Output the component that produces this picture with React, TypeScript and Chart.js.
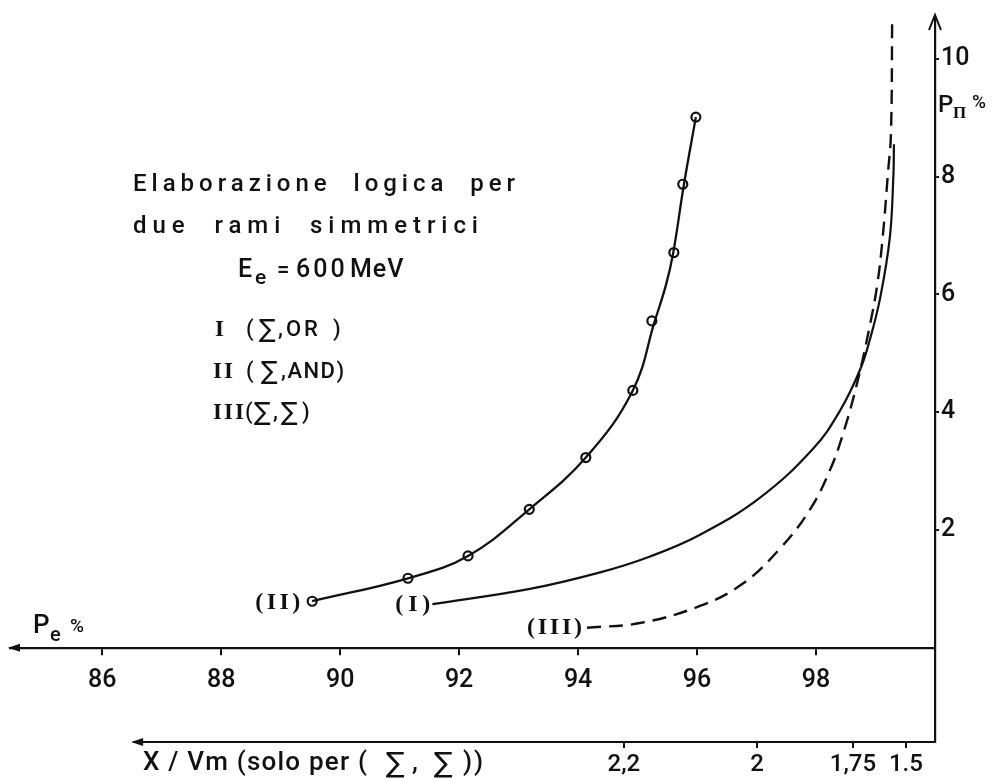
import React, { useEffect, useRef } from 'react';
import { Chart, registerables } from 'chart.js';

Chart.register(...registerables);

// Curve II (Σ, AND) – measured points (circles), Pe % vs PΠ %
const markIIx = [89.53, 91.14, 92.15, 93.18, 94.13, 94.92, 95.24, 95.61, 95.76, 95.98];
const markIIy = [0.79, 1.18, 1.56, 2.35, 3.23, 4.37, 5.55, 6.71, 7.87, 9.01];
// Curve II – drawn smooth line
const lineIIx = [89.53, 91.14, 92.15, 93.18, 94.13, 94.92, 95.29, 95.48, 95.6, 95.78, 95.98];
const lineIIy = [0.79, 1.18, 1.56, 2.35, 3.23, 4.37, 5.55, 6.17, 6.71, 7.87, 9.01];
// Curve I (Σ, OR) – solid line
const curveIx = [91.55, 93.19, 94.37, 95.21, 96.05, 97.06, 97.95, 98.4, 98.74, 98.91, 99.08, 99.24, 99.3, 99.31];
const curveIy = [0.74, 1.0, 1.28, 1.55, 1.92, 2.55, 3.38, 4.02, 4.72, 5.25, 5.95, 6.96, 8.0, 8.55];
// Curve III (Σ, Σ) – dashed line
const curveIIIx = [94.15, 95.04, 96.05, 96.77, 97.39, 97.9, 98.24, 98.45, 98.69, 98.91, 99.03, 99.12, 99.21, 99.26, 99.28];
const curveIIIy = [0.34, 0.42, 0.71, 1.09, 1.68, 2.35, 3.03, 3.62, 4.49, 5.5, 6.17, 6.96, 8.07, 8.74, 10.67];

const peTicks = [86, 88, 90, 92, 94, 96, 98];
const pPiTicks = [2, 4, 6, 8, 10];
// X/Vm secondary axis: tick positions expressed on the Pe scale, and their labels
const xvmTickPe = [94.77, 97.01, 98.62, 99.51];
const xvmLabels = ['2,2', '2', '1,75', '1.5'];
const xvmAxisFrom = 86.52;

const peMin = 84.45;
const peMax = 100;
const piMin = -1.6;
const piMax = 10.71;

const ink = '#111111';
const SIG = '∑';

const toPts = (xs: number[], ys: number[]) => xs.map((x, i) => ({ x, y: ys[i] }));

function fitText(ctx: CanvasRenderingContext2D, text: string, x: number, y: number, width: number, font: string) {
  ctx.save();
  ctx.font = font;
  (ctx as any).letterSpacing = '0px';
  const w = ctx.measureText(text).width;
  const n = Array.from(text).length;
  const sp = n > 1 ? (width - w) / (n - 1) : 0;
  (ctx as any).letterSpacing = sp.toFixed(2) + 'px';
  ctx.fillText(text, x, y);
  ctx.restore();
}

function put(ctx: CanvasRenderingContext2D, text: string, x: number, y: number, font: string, spacing = 0) {
  ctx.save();
  ctx.font = font;
  (ctx as any).letterSpacing = spacing + 'px';
  ctx.fillText(text, x, y);
  ctx.restore();
}

const decor = {
  id: 'decor',
  afterDraw(chart: any) {
    const ctx: CanvasRenderingContext2D = chart.ctx;
    const xs = chart.scales.x;
    const ys = chart.scales.y;
    const area = chart.chartArea;
    ctx.save();
    ctx.fillStyle = ink;
    ctx.strokeStyle = ink;
    ctx.textBaseline = 'alphabetic';
    ctx.textAlign = 'left';

    // lower X/Vm axis line
    const y0 = ys.getPixelForValue(0);
    const xStart = xs.getPixelForValue(xvmAxisFrom);
    ctx.lineWidth = 2.2;
    ctx.beginPath();
    ctx.moveTo(xStart, area.bottom);
    ctx.lineTo(area.right, area.bottom);
    ctx.stroke();

    // arrow heads
    const leftArrow = (px: number, py: number) => {
      ctx.beginPath();
      ctx.moveTo(px - 2, py);
      ctx.lineTo(px + 10, py - 4);
      ctx.lineTo(px + 10, py + 4);
      ctx.closePath();
      ctx.fill();
    };
    leftArrow(area.left, y0);
    leftArrow(xStart, area.bottom);
    ctx.lineWidth = 2;
    ctx.beginPath();
    ctx.moveTo(area.right - 6, area.top + 13);
    ctx.lineTo(area.right, area.top - 2);
    ctx.lineTo(area.right + 6, area.top + 13);
    ctx.stroke();

    // title block
    const f = '500 24px Roboto';
    fitText(ctx, 'Elaborazione  logica  per', 133, 191, 382, f);
    fitText(ctx, 'due  rami  simmetrici', 133, 233, 345, f);
    put(ctx, 'E', 238, 277, '500 25px Roboto');
    put(ctx, 'e', 255, 284, '500 21px Roboto');
    put(ctx, '=', 277, 277, '500 22px Roboto');
    put(ctx, '600', 296, 277, '500 25px Roboto', 3);
    put(ctx, 'MeV', 350, 277, '500 25px Roboto', 1);

    // legend lines
    const rf = 'bold 23px "Liberation Serif"';
    const lf = '500 22px Roboto';
    const sf = '25px "DejaVu Sans"';
    put(ctx, 'I', 215, 336, rf);
    put(ctx, '(', 246, 336, lf);
    put(ctx, SIG, 259, 337, sf);
    put(ctx, ',OR', 278, 336, lf, 3);
    put(ctx, ')', 333, 336, lf);

    put(ctx, 'II', 213, 378, rf, 2);
    put(ctx, '(', 246, 378, lf);
    put(ctx, SIG, 261, 379, sf);
    put(ctx, ',AND)', 281, 378, lf, 1.5);

    put(ctx, 'III', 213, 419, rf, 2);
    put(ctx, '(', 245, 419, lf);
    put(ctx, SIG, 254, 420, sf);
    put(ctx, ',', 273, 419, lf);
    put(ctx, SIG, 281, 420, sf);
    put(ctx, ')', 302, 419, lf);

    // curve labels, placed left of each curve start
    const cf = 'bold 24px "Liberation Serif"';
    ctx.textBaseline = 'middle';
    const lab = (text: string, px: number, py: number, w: number) => fitText(ctx, text, px - w, py, w, cf);
    lab('(II)', xs.getPixelForValue(markIIx[0]) - 12, ys.getPixelForValue(markIIy[0]) + 2, 45);
    lab('(I)', xs.getPixelForValue(curveIx[0]) - 2, ys.getPixelForValue(curveIy[0]) + 1, 35);
    lab('(III)', xs.getPixelForValue(curveIIIx[0]) - 5, ys.getPixelForValue(curveIIIy[0]), 55);
    ctx.textBaseline = 'alphabetic';

    // axis titles
    put(ctx, 'P', 33, 633, '500 26px Roboto');
    put(ctx, 'e', 50, 641, '500 20px Roboto');
    put(ctx, '%', 70, 632, '500 19px Roboto');

    put(ctx, 'P', 938, 112, '500 24px Roboto');
    put(ctx, 'Π', 953, 118, 'bold 17px "Liberation Serif"');
    put(ctx, '%', 972, 108, '500 19px Roboto');

    // X/Vm axis title
    fitText(ctx, 'X / Vm (solo per (', 143, 770, 224, '500 26px Roboto');
    put(ctx, SIG, 386, 772, '28px "DejaVu Sans"');
    put(ctx, ',', 412, 770, '500 26px Roboto');
    put(ctx, SIG, 434, 772, '28px "DejaVu Sans"');
    put(ctx, '))', 463, 770, '500 26px Roboto', 2);
    ctx.restore();
  },
};

export default function App() {
  const ref = useRef<HTMLCanvasElement | null>(null);
  useEffect(() => {
    document.body.style.margin = '0';
    const canvas = ref.current!;
    const tickFont = { family: 'Roboto', size: 25, weight: '500' };
    const lineCommon = { borderColor: ink, pointRadius: 0, tension: 0.4, fill: false };
    const chart = new Chart(canvas, {
      type: 'line',
      data: {
        datasets: [
          { label: 'II line', data: toPts(lineIIx, lineIIy), borderWidth: 2.3, ...lineCommon },
          {
            label: 'II points',
            data: toPts(markIIx, markIIy),
            showLine: false,
            pointRadius: 4.5,
            pointBorderWidth: 2.2,
            pointBackgroundColor: '#ffffff',
            pointBorderColor: ink,
          },
          { label: 'I', data: toPts(curveIx, curveIy), borderWidth: 2.2, ...lineCommon },
          { label: 'III', data: toPts(curveIIIx, curveIIIy), borderWidth: 2.4, borderDash: [14, 8], ...lineCommon },
        ],
      } as any,
      options: {
        responsive: false,
        animation: false,
        layout: { padding: { left: 10, top: 10, right: 0, bottom: 0 } },
        plugins: { legend: { display: false }, tooltip: { enabled: false } },
        scales: {
          x: {
            type: 'linear',
            position: { y: 0 } as any,
            min: peMin,
            max: peMax,
            afterFit: (s: any) => { s.height = 0; },
            afterBuildTicks: (s: any) => { s.ticks = peTicks.map((v) => ({ value: v })); },
            grid: { drawOnChartArea: false, drawTicks: true, tickLength: 6, color: ink, lineWidth: 2 },
            border: { display: true, color: ink, width: 2.2 },
            ticks: { autoSkip: false, maxRotation: 0, padding: 12, color: ink, font: tickFont, callback: (v: any) => String(v) },
          },
          x2: {
            type: 'linear',
            axis: 'x',
            position: 'bottom',
            min: peMin,
            max: peMax,
            afterFit: (s: any) => { s.height = 39; },
            afterBuildTicks: (s: any) => { s.ticks = xvmTickPe.map((v) => ({ value: v })); },
            grid: { drawOnChartArea: false, drawTicks: true, tickLength: 6, color: ink, lineWidth: 2 },
            border: { display: false },
            ticks: { autoSkip: false, maxRotation: 0, padding: 3, color: ink, font: { family: 'Roboto', size: 24, weight: '500' }, callback: (_v: any, i: number) => xvmLabels[i] },
          },
          y: {
            type: 'linear',
            position: 'right',
            min: piMin,
            max: piMax,
            afterFit: (s: any) => { s.width = 60; },
            afterBuildTicks: (s: any) => { s.ticks = pPiTicks.map((v) => ({ value: v })); },
            grid: { drawOnChartArea: false, drawTicks: true, tickLength: 4, color: ink, lineWidth: 2 },
            border: { display: true, color: ink, width: 2.2 },
            ticks: { autoSkip: false, padding: 2, color: ink, font: tickFont, callback: (v: any) => String(v) },
          },
        },
      } as any,
      plugins: [decor],
    });
    return () => chart.destroy();
  }, []);
  return <canvas ref={ref} width={995} height={781} style={{ display: 'block' }} />;
}
